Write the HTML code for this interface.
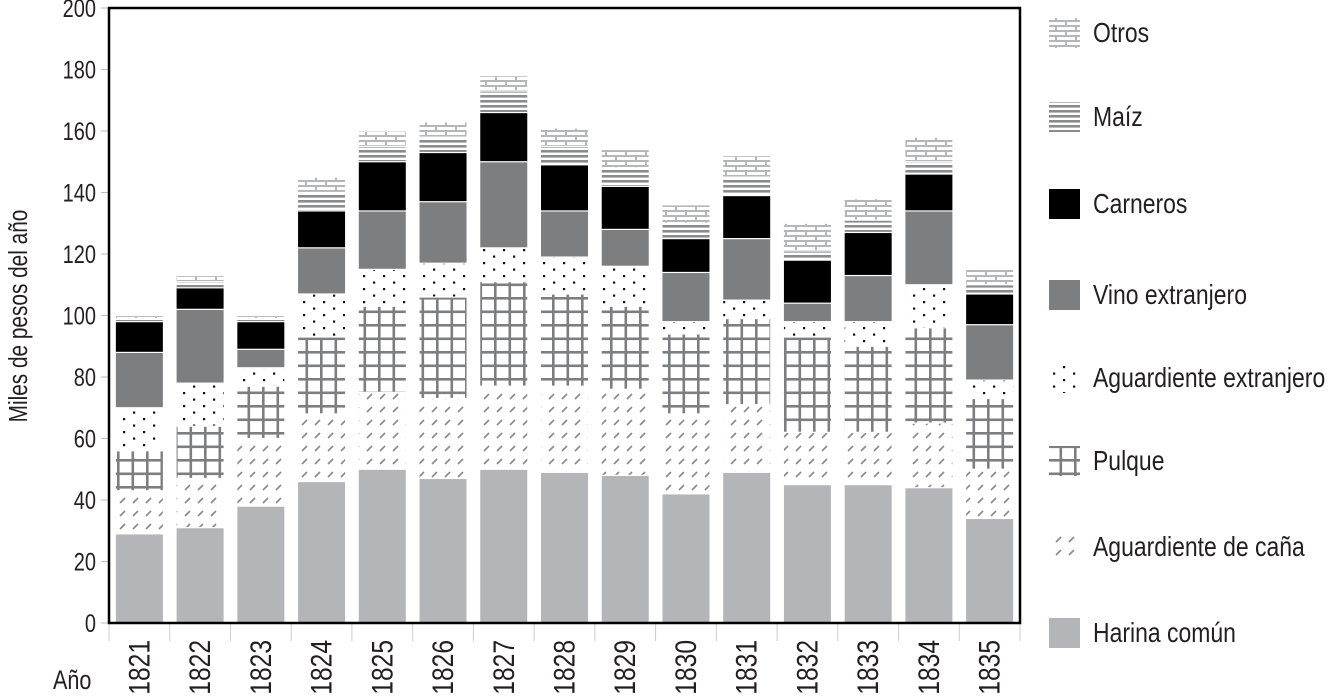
<!DOCTYPE html>
<html><head><meta charset="utf-8"><style>
html,body{margin:0;padding:0;background:#fff;}
svg text{font-family:"Liberation Sans",sans-serif;fill:#231f20;}
</style></head><body>
<svg id="chart" width="1341" height="693" xmlns="http://www.w3.org/2000/svg">
<defs>
<pattern id="p-cana" width="13" height="13" patternUnits="userSpaceOnUse"><path d="M3 9 L8 4" stroke="#888" stroke-width="1.6"/></pattern>
<pattern id="p-pulque" width="14.5" height="13.5" patternUnits="userSpaceOnUse" x="1" y="0"><rect x="0" y="0" width="2.6" height="13.5" fill="#7d7e80"/><rect x="0" y="0" width="14.5" height="2.6" fill="#7d7e80"/></pattern>
<pattern id="p-dots" width="20" height="13" patternUnits="userSpaceOnUse"><rect x="3" y="2" width="2.2" height="2.2" fill="#111"/><rect x="13" y="8.5" width="2.2" height="2.2" fill="#111"/></pattern>
<pattern id="p-maiz" width="10" height="5" patternUnits="userSpaceOnUse"><rect x="0" y="0" width="10" height="2.6" fill="#8a8b8d"/></pattern>
<pattern id="p-otros" width="20" height="10" patternUnits="userSpaceOnUse"><rect width="20" height="10" fill="#fff"/><rect x="0" y="0" width="20" height="2" fill="#b4b6b8"/><rect x="0" y="5" width="20" height="2" fill="#b4b6b8"/><rect x="5" y="0" width="2" height="5" fill="#b4b6b8"/><rect x="15" y="5" width="2" height="5" fill="#b4b6b8"/></pattern>
</defs>
<g id="bars"></g>
<g id="axes"></g>
<g id="legend"></g>
</svg>
<script>
const years = ["1821","1822","1823","1824","1825","1826","1827","1828","1829","1830","1831","1832","1833","1834","1835"];
const harina = [29,31,38,46,50,47,50,49,48,42,49,45,45,44,34];
const cana = [14,16,22,22,25,26,27,28,28,26,22,17,17,21,16];
const pulque = [13,17,17,25,28,33,34,30,27,26,28,31,28,31,23];
const aguardExt = [14,14,6,14,12,11,11,12,13,4,6,5,8,14,6];
const vino = [18,24,6,15,19,20,28,15,12,16,20,6,15,24,18];
const carneros = [10,7,9,12,16,16,16,15,14,11,14,14,14,12,10];
const maiz = [1,2,1,6,5,5,7,6,6,5,6,3,4,4,3];
const otros = [1,2,1,5,5,5,5,6,6,6,7,9,7,8,5];
const yTicks = [0,20,40,60,80,100,120,140,160,180,200];
const seriesNames = ["Harina común","Aguardiente de caña","Pulque","Aguardiente extranjero","Vino extranjero","Carneros","Maíz","Otros"];

const NS="http://www.w3.org/2000/svg";
const X0=109, X1=1020, Y0=623, Y1=8, YMAX=200;
const band=(X1-X0)/years.length, barW=47;
const SX=0.8;
function yScale(v){return Y0-(Y0-Y1)*v/YMAX;}
function xScale(i){return X0+band*i+(band-barW)/2;}
function mk(tag,attrs,parent){const e=document.createElementNS(NS,tag);for(const k in attrs)e.setAttribute(k,attrs[k]);parent.appendChild(e);return e;}
const series=[harina,cana,pulque,aguardExt,vino,carneros,maiz,otros];
const fills=["#b3b5b8","url(#p-cana)","url(#p-pulque)","url(#p-dots)","#7d7e80","#000","url(#p-maiz)","url(#p-otros)"];
const keys=["harina","cana","pulque","aguardiente-extranjero","vino","carneros","maiz","otros"];
const gb=document.getElementById('bars');
years.forEach((yr,i)=>{
  let cum=0;
  series.forEach((s,k)=>{
    const v=s[i];
    const top=yScale(cum+v), bot=yScale(cum);
    const r=mk('rect',{x:xScale(i),y:top+0.6,width:barW,height:Math.max(0,bot-top-1.2),fill:fills[k]},gb);
    
    
    cum+=v;
  });
});
const ga=document.getElementById('axes');
yTicks.forEach(t=>{
  const y=yScale(t);
  const l=mk('line',{x1:101,x2:X0,y1:y,y2:y,stroke:'#bbb','stroke-width':1},ga);
  
  
  const tx=mk('text',{x:0,y:0,'text-anchor':'end','font-size':25,transform:`translate(96,${y+9}) scale(${SX},1)`},ga);
  tx.textContent=t;
  
  
});
for(let i=0;i<=years.length;i++){
  const x=X0+band*i;
  const l=mk('line',{x1:x,x2:x,y1:Y0,y2:641,stroke:'#ccc','stroke-width':1},ga);
  
  
}
years.forEach((yr,i)=>{
  const cx=X0+band*i+band/2+10;
  const t=mk('text',{x:0,y:0,'text-anchor':'end','font-size':30,transform:`translate(${cx},640) rotate(-90) scale(0.82,1)`},ga);
  t.textContent=yr;
  
  
});
const frame=mk('rect',{x:X0,y:Y1,width:X1-X0,height:Y0-Y1,fill:'none',stroke:'#000','stroke-width':2.5},ga);


const yt=mk('text',{x:0,y:0,'text-anchor':'middle','font-size':26,transform:`translate(27,316) rotate(-90) scale(${SX},1)`},ga);
yt.textContent='Miles de pesos del año';


const xt=mk('text',{x:0,y:0,'font-size':27,transform:`translate(53,689) scale(${SX},1)`},ga);
xt.textContent='Año';


const gl=document.getElementById('legend');
const legY=[633,547,461,378,295,204,117,33];
seriesNames.forEach((n,k)=>{
  const cy=legY[k];
  const g=mk('g',{},gl);
  
  
  mk('rect',{x:1049,y:cy-15,width:31,height:30,fill:fills[k]},g);
  const t=mk('text',{x:0,y:0,'font-size':28,transform:`translate(1093,${cy+9}) scale(0.82,1)`},g);
  t.textContent=n;
});
</script>
</body></html>
